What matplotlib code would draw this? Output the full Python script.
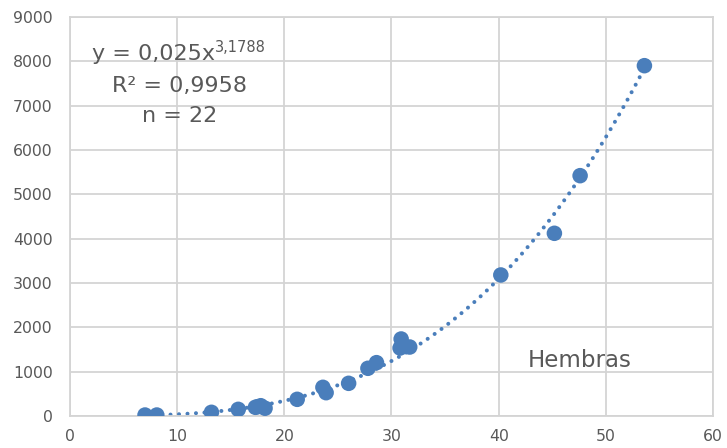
import numpy as np
import matplotlib
matplotlib.use("Agg")
import matplotlib.pyplot as plt

# Female length (x) vs weight (y) measurements
length = [7.0, 8.1, 13.2, 15.7, 17.3, 17.5, 17.8, 18.2, 21.2, 23.6, 23.9,
          26.0, 27.8, 28.6, 30.8, 30.9, 31.0, 31.7, 40.2, 45.2, 47.6, 53.6]
weight = [22, 22, 83, 150, 196, 210, 232, 175, 376, 647, 526,
          737, 1076, 1203, 1534, 1737, 1600, 1556, 3181, 4121, 5421, 7902]

# Power-law trend parameters
coef_a = 0.025
coef_b = 3.1788

x_ticks = [0, 10, 20, 30, 40, 50, 60]
y_ticks = list(range(0, 9001, 1000))

blue = "#4A7EBB"
grid_c = "#D4D4D4"
text_c = "#595959"

plt.rcParams['font.family'] = ['DejaVu Sans']

fig = plt.figure(figsize=(7.27, 4.48), dpi=100)
ax = fig.add_axes([70 / 727, 1 - 416 / 448, 643 / 727, 399 / 448])

ax.set_xlim(0, 60)
ax.set_ylim(0, 9000)
ax.set_xticks(x_ticks)
ax.set_yticks(y_ticks)
ax.grid(True, color=grid_c, linewidth=1.3)
ax.set_axisbelow(True)
for s in ax.spines.values():
    s.set_color(grid_c)
    s.set_linewidth(1.3)
ax.tick_params(length=0, labelsize=11.3, colors=text_c)
ax.tick_params(axis='x', pad=9)
ax.tick_params(axis='y', pad=12.5)

# Dotted power-law trend line
xt = np.linspace(min(length), max(length), 400)
yt = coef_a * xt ** coef_b
ax.plot(xt, yt, color=blue, linewidth=2.9, linestyle=(0, (0.01, 2.1)),
        dash_capstyle='round', zorder=2)

ax.scatter(length, weight, s=125, color=blue, edgecolors='none', zorder=3)

# Equation annotation
ax.text(0.2255, 0.892, "y = 0,025x", transform=ax.transAxes, ha='right',
        va='baseline', fontsize=16, color=text_c)
ax.text(0.2255, 0.912, "3,1788", transform=ax.transAxes, ha='left',
        va='baseline', fontsize=10.5, color=text_c)
ax.text(0.171, 0.812, "R² = 0,9958", transform=ax.transAxes, ha='center',
        va='baseline', fontsize=16, color=text_c)
ax.text(0.171, 0.737, "n = 22", transform=ax.transAxes, ha='center',
        va='baseline', fontsize=16, color=text_c)

ax.text(0.793, 0.123, "Hembras", transform=ax.transAxes, ha='center',
        va='baseline', fontsize=16.5, color=text_c)

fig.savefig("out.png", dpi=100)
